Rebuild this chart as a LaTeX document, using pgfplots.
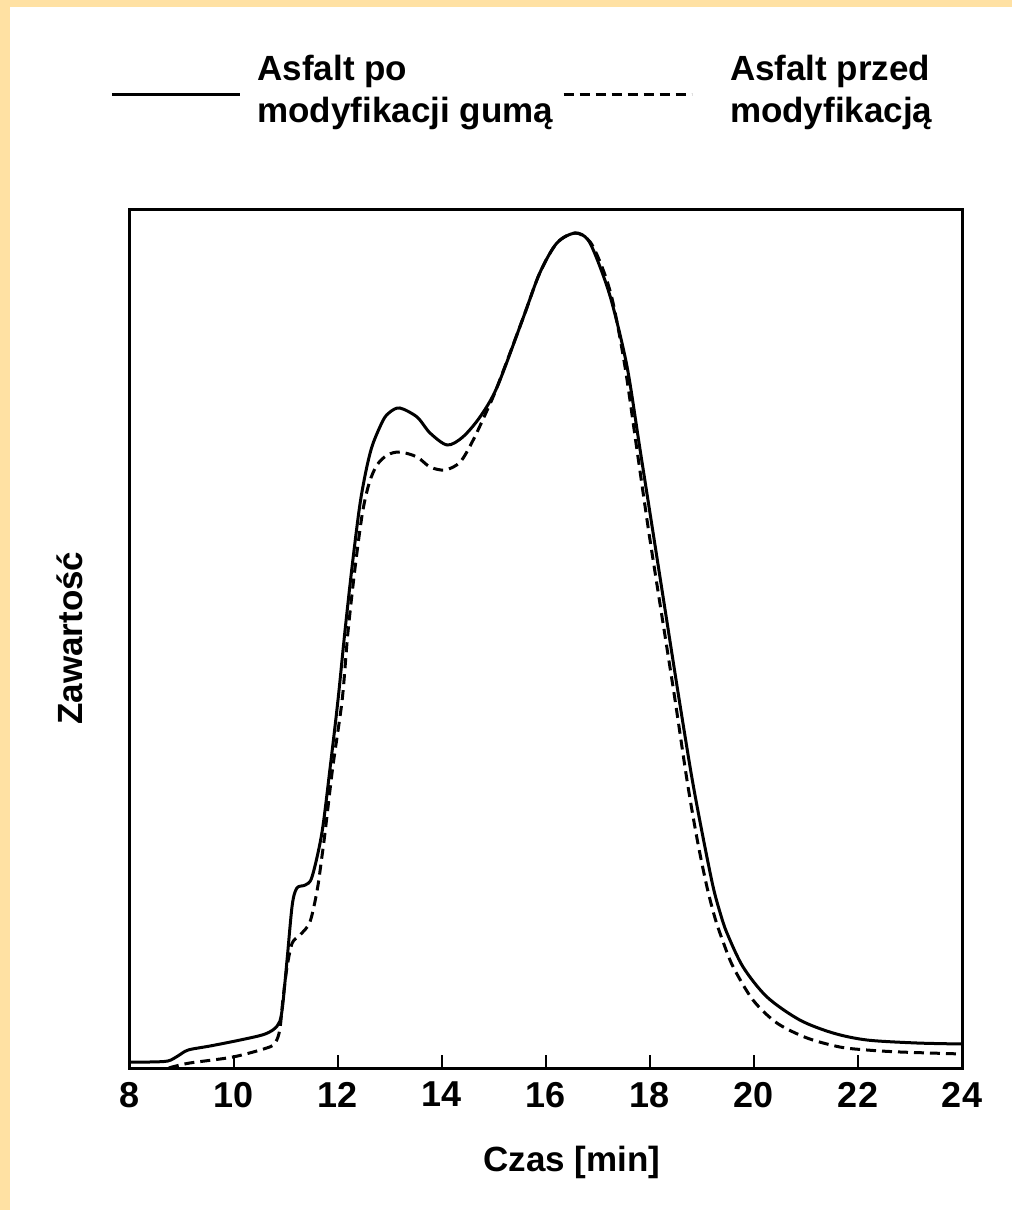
\documentclass[border=0pt]{standalone}
\usepackage{pgfplots}
\pgfplotsset{compat=1.18}
\usepackage{fontspec}
\setmainfont{Liberation Sans}
\definecolor{frame}{HTML}{FFE1A3}

\begin{document}
\begin{tikzpicture}
% page background: 1012x1210 px at 0.5pt per px, axis SW corner at origin
\fill[white] (-65pt,-71pt) rectangle (441pt,534pt);
\fill[frame] (-65pt,530.5pt) rectangle (441pt,534pt);
\fill[frame] (-65pt,-71pt) rectangle (-60pt,534pt);
\begin{axis}[
    scale only axis,
    width=416pt, height=429pt,
    xmin=8, xmax=24, ymin=0, ymax=858,
    xtick={8,10,...,24}, ytick=\empty,
    xtick pos=bottom, tick align=inside,
    major tick length=6.5pt,
    tick style={line width=0.8pt, black},
    axis line style={line width=1.5pt},
    /pgf/number format/assume math mode=true,
    ticklabel style={font=\fontsize{18}{21}\selectfont\bfseries},
    xticklabel style={yshift=-3.5pt},
    xlabel={Czas [min]},
    xlabel style={at={(axis description cs:0.531,-0.1212)}, anchor=base,
        font=\fontsize{17.5}{21}\selectfont\bfseries},
    ylabel={Zawartość},
    ylabel style={at={(axis description cs:-0.0565,0.501)}, rotate=0, anchor=base,
        font=\fontsize{17.5}{21}\selectfont\bfseries},
    legend columns=2,
    legend cell align=left,
    legend image code/.code={\draw[#1] (0pt,-2pt) -- (64pt,-2pt);},
    legend style={at={(axis description cs:-0.024,1.181)}, anchor=north west,
        draw=none, fill=none, inner sep=0pt,
        font=\fontsize{17.5}{21}\selectfont\bfseries,
        nodes={align=left, inner sep=0pt},
        /tikz/column 1/.style={column sep=8pt},
        /tikz/column 2/.style={column sep=4.5pt},
        /tikz/column 3/.style={column sep=18.5pt}},
]
\addplot[black, line width=1.5pt, smooth, tension=0.5] coordinates {
(8.00,6) (8.38,6) (8.73,7) (8.92,12) (9.12,18) (9.54,22) (10.12,28)
(10.60,34) (10.83,42) (10.92,56) (11.02,108) (11.12,163) (11.21,180)
(11.37,183) (11.50,191) (11.69,235) (11.85,301) (12.00,368) (12.13,435)
(12.27,501) (12.42,563) (12.55,600) (12.67,624) (12.87,648) (13.00,656)
(13.19,660) (13.52,651) (13.77,635) (14.10,623) (14.40,631) (14.73,651)
(15.06,681) (15.56,750) (15.88,795) (16.21,825) (16.56,835) (16.81,828)
(17.04,801) (17.27,765) (17.56,701) (17.81,618) (18.06,535) (18.30,455)
(18.55,372) (18.80,292) (19.00,236) (19.21,182) (19.35,155) (19.48,135)
(19.79,101) (20.25,71) (20.88,48) (21.52,35) (22.17,28) (23.13,25)
(24.00,24)
};
\addlegendentry{Asfalt po\\modyfikacji gumą}
\addplot[black, line width=1.5pt, dash pattern=on 5pt off 3pt, smooth, tension=0.5] coordinates {
(8.75,0) (8.81,1) (9.15,5) (9.98,11) (10.63,20) (10.79,25) (10.88,38)
(10.94,68) (11.02,101) (11.12,125) (11.27,133) (11.46,146) (11.60,178)
(11.69,211) (11.75,235) (11.90,301) (12.08,368) (12.19,435) (12.33,501)
(12.47,555) (12.60,585) (12.75,603) (12.95,613) (13.19,616) (13.52,611)
(13.77,601) (14.06,598) (14.35,606) (14.60,628) (14.87,658) (15.06,681)
(15.56,750) (15.88,795) (16.21,825) (16.56,835) (16.85,826) (17.10,798)
(17.29,765) (17.52,701) (17.75,618) (17.98,535) (18.22,455) (18.47,372)
(18.72,285) (18.92,225) (19.10,180) (19.25,150) (19.40,127) (19.60,101)
(19.98,68) (20.44,45) (21.02,30) (21.65,21) (22.17,18) (22.81,16)
(24.00,14)
};
\addlegendentry{Asfalt przed\\modyfikacją}
\end{axis}
\end{tikzpicture}
\end{document}
